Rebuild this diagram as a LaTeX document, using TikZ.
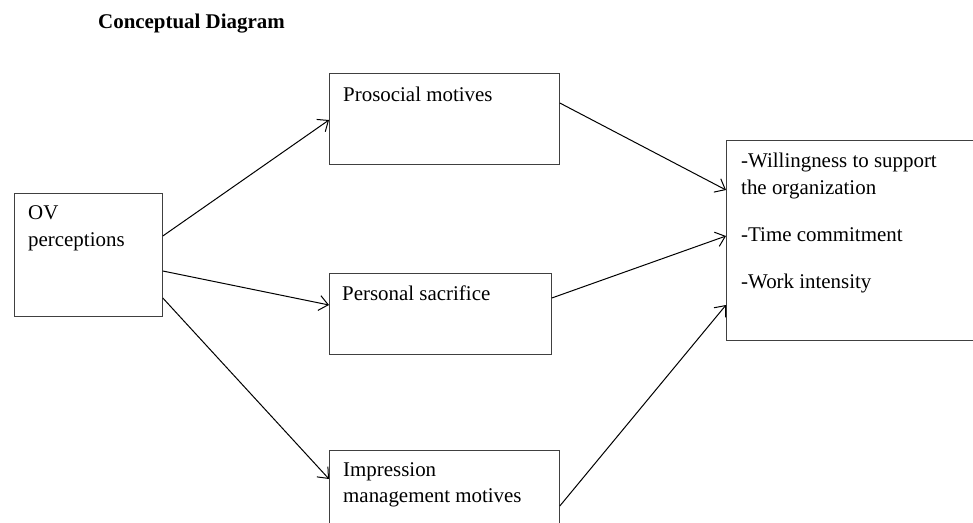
\documentclass[tikz,border=0pt]{standalone}
\usepackage{fontspec}
\setmainfont{Liberation Serif}
\usetikzlibrary{arrows.meta}

\begin{document}
\begin{tikzpicture}[x=1bp,y=-1bp,
    box/.style={draw=black!75, line width=0.8bp, anchor=north west, inner sep=0pt},
    txt/.style={font=\fontsize{21}{27}\selectfont, align=left, anchor=north west, inner sep=0pt},
    arr/.style={-{Straight Barb[length=9bp,width=15bp]}, line width=1bp}]
      \useasboundingbox (0,0) rectangle (973,523);

      \node[font=\fontsize{21}{27}\selectfont\bfseries, anchor=base west, inner sep=0pt] (title) at (98,29) {Conceptual Diagram};

      \node[box, minimum width=148bp, minimum height=123bp] (ov) at (14,193) {};
      \node[box, minimum width=230bp, minimum height=91bp] (pro) at (329,73) {};
      \node[box, minimum width=222bp, minimum height=81bp] (per) at (329,273) {};
      \node[box, minimum width=230bp, minimum height=90bp] (imp) at (329,450) {};
      \node[box, minimum width=260bp, minimum height=200bp] (out) at (726,140) {};

      \node[txt] (ovtxt) at ([xshift=14bp,yshift=-12.5bp]ov.north west) {OV\\perceptions};
      \node[txt] (protxt) at ([xshift=14bp,yshift=-14bp]pro.north west) {Prosocial motives};
      \node[txt] (pertxt) at ([xshift=13bp,yshift=-13bp]per.north west) {Personal sacrifice};
      \node[txt] (imptxt) at ([xshift=14bp,yshift=-12bp]imp.north west) {Impression\\management motives};
      \node[txt] (outtxt) at ([xshift=15bp,yshift=-12.5bp]out.north west)
        {-Willingness to support\\the organization\\[20bp]-Time commitment\\[21bp]-Work intensity};

      % paths into the mediators
      \draw[arr] ([yshift=-43bp]ov.north east) -- ([yshift=-47bp]pro.north west);
      \draw[arr] ([yshift=-78bp]ov.north east) -- ([yshift=-32bp]per.north west);
      \draw[arr] ([yshift=-105bp]ov.north east) -- ([yshift=-29bp]imp.north west);
      % paths into the outcomes
      \draw[arr] ([yshift=-30bp]pro.north east) -- ([yshift=-50bp]out.north west);
      \draw[arr] ([yshift=-25bp]per.north east) -- ([yshift=-96bp]out.north west);
      \draw[arr] ([yshift=-56bp]imp.north east) -- ([yshift=-165bp]out.north west);
    \end{tikzpicture}
\end{document}
